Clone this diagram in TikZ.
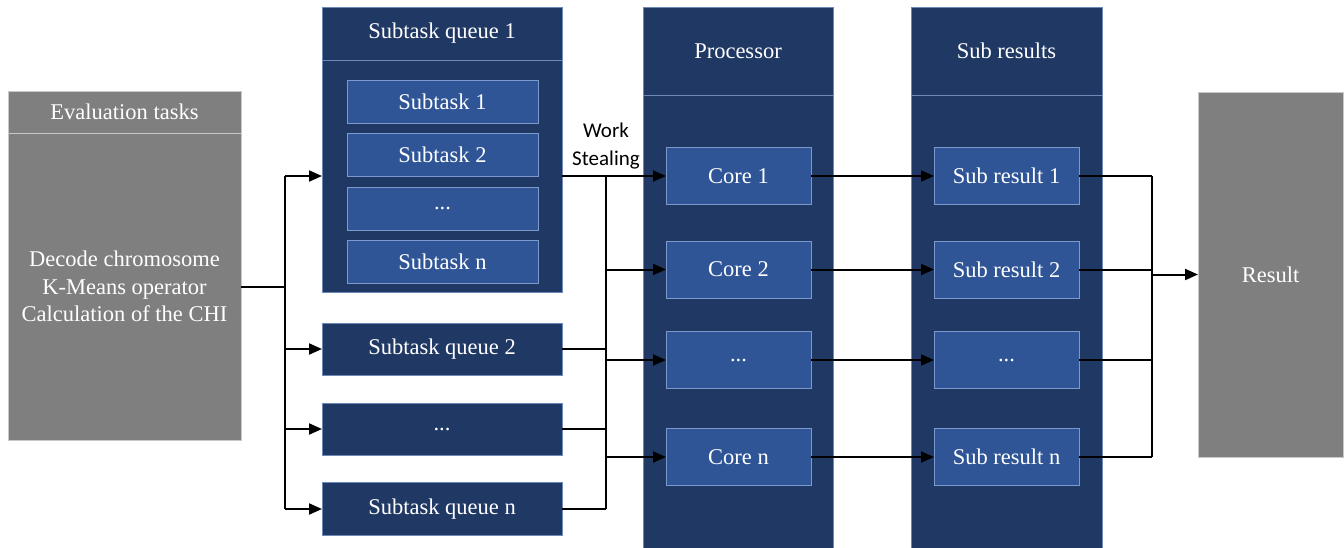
\documentclass[tikz,border=0pt]{standalone}
\usepackage{fontspec}
\setmainfont{Liberation Serif}
\newfontfamily\calib{Carlito}
\usetikzlibrary{arrows.meta}
\definecolor{navy}{RGB}{32,56,100}
\definecolor{midblue}{RGB}{47,85,151}
\definecolor{edgeblue}{RGB}{143,170,220}
\definecolor{gbox}{RGB}{127,127,127}
\definecolor{gedge}{RGB}{200,200,200}
\tikzset{
  base/.style={rectangle, inner sep=0pt, outer sep=0pt, text=white, align=center,
    font=\fontsize{22.5}{27.5}\selectfont},
  colbox/.style={base, fill=navy, draw=edgeblue!70!navy, line width=0.6pt},
  innerbox/.style={base, fill=midblue, draw=edgeblue!80!midblue, line width=0.7pt,
    minimum width=#1},
  innerbox/.default=145pt,
  graybox/.style={base, fill=gbox, draw=gedge, line width=0.6pt},
  wire/.style={line width=2pt, black},
  arr/.style={wire, -{Triangle[length=13pt,width=11pt]}},
}
\begin{document}
\begin{tikzpicture}[x=1pt,y=-1pt]
\useasboundingbox (0,0) rectangle (1344,547);

% Evaluation tasks
\node[graybox, minimum width=233pt, minimum height=42pt] (evalh) at (124.5,112) {Evaluation tasks};
\node[graybox, minimum width=233pt, minimum height=307pt] (evalb) at (124.5,286.5)
  {Decode chromosome\\K-Means operator\\Calculation of the CHI};

% Subtask queue 1
\node[colbox, minimum width=240pt, minimum height=53pt] (q1h) at (442,33.5) {Subtask queue 1};
\node[colbox, minimum width=240pt, minimum height=232pt] (q1b) at (442,176) {};
\node[innerbox=191pt, minimum height=43pt] (t1) at (442.5,101.5) {Subtask 1};
\node[innerbox=191pt, minimum height=43pt] (t2) at (442.5,155) {Subtask 2};
\node[innerbox=191pt, minimum height=43pt] (t3) at (442.5,208.5) {...};
\node[innerbox=191pt, minimum height=43pt] (tn) at (442.5,262) {Subtask n};

% Other queues
\node[colbox, minimum width=240pt, minimum height=52pt] (q2) at (442,349) {Subtask queue 2};
\node[colbox, minimum width=240pt, minimum height=52pt] (q3) at (442,429) {...};
\node[colbox, minimum width=240pt, minimum height=53pt] (qn) at (442,509) {Subtask queue n};

% Processor
\node[colbox, minimum width=190pt, minimum height=88pt] (ph) at (738,51) {Processor};
\node[colbox, minimum width=190pt, minimum height=454pt] (pb) at (738,322) {};
\node[innerbox, minimum height=57pt] (c1) at (738.5,176) {Core 1};
\node[innerbox, minimum height=57pt] (c2) at (738.5,269.5) {Core 2};
\node[innerbox, minimum height=57pt] (c3) at (738.5,360) {...};
\node[innerbox, minimum height=57pt] (cn) at (738.5,457) {Core n};

% Sub results
\node[colbox, minimum width=191pt, minimum height=88pt] (sh) at (1006.5,51) {Sub results};
\node[colbox, minimum width=191pt, minimum height=454pt] (sb) at (1006.5,322) {};
\node[innerbox, minimum height=57pt] (s1) at (1006.5,176) {Sub result 1};
\node[innerbox, minimum height=57pt] (s2) at (1006.5,269.5) {Sub result 2};
\node[innerbox, minimum height=57pt] (s3) at (1006.5,360) {...};
\node[innerbox, minimum height=57pt] (sn) at (1006.5,457) {Sub result n};

% Result
\node[graybox, minimum width=145pt, minimum height=365pt] (res) at (1270.5,274.5) {Result};

% Work stealing label
\node[align=center, inner sep=0pt, font=\calib\fontsize{21}{28.5}\selectfont] (ws) at (606,146) {Work\\Stealing};

% Left bus
\coordinate (lb) at (285,0);
\draw[wire] (evalb.east) -- (evalb.east -| lb);
\draw[wire] (lb |- q1b.west) -- (lb |- qn.west);
\draw[arr] (lb |- q1b.west) -- (q1b.west);
\draw[arr] (lb |- q2.west) -- (q2.west);
\draw[arr] (lb |- q3.west) -- (q3.west);
\draw[arr] (lb |- qn.west) -- (qn.west);

% Middle bus
\coordinate (mb) at (606,0);
\draw[arr] (q1b.east) -- (c1.west);
\draw[wire] (q2.east) -- (q2.east -| mb);
\draw[wire] (q3.east) -- (q3.east -| mb);
\draw[wire] (qn.east) -- (qn.east -| mb);
\draw[wire] (mb |- c1.west) -- (mb |- qn.east);
\draw[arr] (mb |- c2.west) -- (c2.west);
\draw[arr] (mb |- c3.west) -- (c3.west);
\draw[arr] (mb |- cn.west) -- (cn.west);

% Core to sub result
\draw[arr] (c1.east) -- (s1.west);
\draw[arr] (c2.east) -- (s2.west);
\draw[arr] (c3.east) -- (s3.west);
\draw[arr] (cn.east) -- (sn.west);

% Right bus
\coordinate (rb) at (1152,0);
\draw[wire] (s1.east) -- (s1.east -| rb);
\draw[wire] (s2.east) -- (s2.east -| rb);
\draw[wire] (s3.east) -- (s3.east -| rb);
\draw[wire] (sn.east) -- (sn.east -| rb);
\draw[wire] (rb |- s1.east) -- (rb |- sn.east);
\draw[arr] (rb |- res.west) -- (res.west);
\end{tikzpicture}
\end{document}
